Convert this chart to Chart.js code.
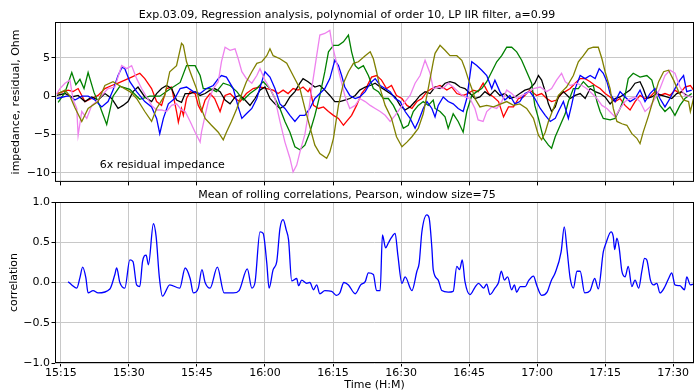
<!DOCTYPE html>
<html>
<head>
<meta charset="utf-8">
<script src="https://cdn.jsdelivr.net/npm/chart.js@4.4.1/dist/chart.umd.min.js"></script>
<style>
body { margin: 0; background: #fff; width: 696px; height: 392px; position: relative; overflow: hidden; }
canvas { position: absolute; left: 0; }
#top { top: 0; }
#bottom { top: 184px; }
</style>
</head>
<body>
<canvas id="top" width="696" height="190"></canvas>
<canvas id="bottom" width="696" height="208"></canvas>
<script>
// times are minutes after 15:00
const timeTicks = ['15:15', '15:30', '15:45', '16:00', '16:15', '16:30', '16:45', '17:00', '17:15', '17:30'];
const impTicks = [-10, -5, 0, 5];
const corrTicks = [-1, -0.5, 0, 0.5, 1];

const timeRed = [14.1,16.6,17.7,18.8,20.3,21.8,23.2,24.7,26.2,27.6,29.1,30.6,32.4,33.5,35.0,36.1,37.2,38.3,39.4,40.5,40.9,41.6,42.0,42.7,43.5,44.6,45.3,46.0,46.8,47.9,48.9,50.1,51.2,52.3,53.4,54.5,55.9,57.4,58.9,60.4,61.8,62.9,64.0,65.1,66.2,67.3,68.4,69.5,69.9,70.7,71.8,72.9,74.0,75.1,76.2,77.3,78.0,79.1,80.2,81.3,82.4,83.5,84.6,85.7,86.8,87.9,89.0,90.2,91.3,92.4,93.5,94.6,95.7,96.8,98.6,100.1,101.2,102.3,103.7,104.8,105.9,107.0,108.1,109.3,110.4,111.5,112.6,113.7,114.8,115.9,117.0,118.4,119.9,121.0,122.1,123.2,124.3,125.4,126.2,127.3,128.4,129.5,130.6,131.7,132.8,133.9,135.0,136.1,137.2,138.3,139.4,140.5,141.6,142.7,143.8,144.9,146.0,147.1,148.2,149.3,150.4,151.5,152.6,153.8,154.5];
const resRed = [0.35,0.8,0.6,1.0,-0.7,-0.3,0.1,1.0,1.4,1.7,2.1,2.5,3.0,2.3,1.0,-0.7,-1.2,1.0,1.2,-2.0,-3.4,-1.6,-2.5,-0.3,0.6,0.35,-1.2,-2.0,-0.5,0.35,-0.3,-2.0,0.1,0.35,-0.3,-0.7,0.35,1.0,1.2,1.0,0.8,0.35,0.8,0.35,1.0,0.8,1.2,0.6,1.0,-1.2,-1.6,-1.4,-2.0,-2.5,-2.9,-3.8,-3.3,-2.5,-1.2,0.35,1.2,2.5,2.7,2.1,1.0,1.4,0.1,-0.3,-1.2,-1.6,-0.7,-0.3,0.6,1.0,1.4,0.8,1.2,0.35,0.1,0.35,0.8,0.6,1.7,0.35,-0.1,-0.7,-2.7,-1.4,-1.4,-0.3,-0.1,0.8,0.1,0.35,-0.3,-0.7,-0.5,0.35,0.6,1.0,1.7,2.3,2.3,1.9,1.4,1.0,0.35,-0.1,-0.7,-0.3,-1.2,-1.8,-0.7,0.1,-0.3,-0.1,0.6,0.1,0.35,0.1,0.8,0.35,1.2,1.4,0.8];

const timeBlack = [14.1,15.9,17.4,18.8,20.3,21.8,23.2,24.7,26.2,27.6,28.7,29.8,30.9,32.0,33.5,35.0,36.1,37.2,38.3,39.4,40.5,41.6,42.4,43.5,44.6,45.7,46.8,47.9,48.9,50.1,51.2,52.3,53.4,54.5,55.6,56.7,57.8,58.9,60.0,61.1,62.2,63.3,64.4,65.5,66.6,67.7,68.4,69.5,71.0,72.1,73.2,74.3,75.4,76.5,77.6,78.7,79.9,80.9,82.1,83.2,84.3,85.4,86.5,87.6,88.7,89.8,90.9,92.0,93.1,94.2,95.3,96.4,97.5,98.6,99.7,100.8,101.9,103.0,104.1,105.2,106.3,107.4,108.5,109.6,110.7,111.8,112.9,114.0,115.1,116.2,117.3,118.4,119.5,120.3,121.0,121.8,122.5,123.2,124.0,124.7,125.8,127.3,128.4,129.5,130.6,131.7,132.8,133.9,135.0,136.1,137.2,138.3,139.4,140.5,141.6,142.7,143.4,144.2,145.3,146.4,147.5,148.6,149.7,150.8,151.9,153.0,154.1];
const resBlack = [0.1,0.35,-0.1,0.1,-0.7,-0.1,-0.5,0.35,-0.3,-1.6,-1.2,-0.7,0.6,1.2,-0.1,-0.7,0.35,1.0,1.4,1.0,-0.5,-0.8,0.35,0.35,0.6,0.1,0.35,0.8,1.0,0.6,-0.5,-1.0,-0.1,0.1,-0.5,-1.2,-0.3,0.8,1.2,-0.3,-1.0,-1.6,-1.2,-0.1,0.6,1.7,2.3,1.9,1.2,1.4,0.8,0.1,-0.7,-0.7,-0.5,-0.3,0.1,0.8,1.2,1.4,1.7,1.2,0.8,0.35,-0.1,-1.2,-1.8,-1.4,-0.7,0.1,0.6,0.35,1.2,1.0,1.7,1.9,1.7,1.2,1.0,0.35,-0.3,-0.1,0.6,0.1,0.8,0.1,0.35,-0.3,-0.1,0.35,0.8,1.0,1.7,2.7,2.1,0.6,-1.0,-2.0,-1.4,-0.1,0.6,-0.3,0.1,0.35,-0.3,1.0,0.6,0.35,-0.1,-1.0,-0.3,-0.1,0.35,0.8,1.7,1.9,1.0,-0.3,-0.1,0.35,0.1,-0.1,-0.3,0.35,0.6,0.1,-0.1];

const timeGreen = [14.4,15.9,17.4,18.3,19.2,20.1,21.0,22.3,23.6,25.1,26.5,28.0,30.2,32.4,34.6,36.8,39.0,41.3,42.7,44.6,45.7,46.4,47.9,49.3,50.8,52.3,53.8,55.2,56.7,58.2,59.6,61.1,62.2,63.3,64.4,65.5,66.6,67.7,68.8,69.9,71.0,72.1,73.2,74.0,75.1,76.2,77.3,78.4,79.1,79.9,80.6,81.7,82.8,83.9,85.0,86.1,87.2,88.3,89.4,90.5,91.6,92.7,93.8,94.9,96.0,97.1,97.5,98.6,99.7,100.4,101.5,102.6,103.7,104.5,105.6,106.7,107.8,108.9,110.0,111.1,112.2,113.3,114.4,115.5,116.6,117.7,118.8,119.5,120.3,121.4,122.5,123.2,124.0,125.1,126.2,126.9,128.0,129.1,130.2,131.3,132.4,133.2,133.9,134.6,136.1,137.2,138.3,139.4,140.1,141.2,142.7,144.2,145.3,146.0,147.1,148.2,149.3,150.4,151.5,152.6,154.1];
const resGreen = [-0.8,0.5,3.1,1.5,2.2,1.0,3.1,0.5,-1.3,-3.7,0,1.3,0.9,-0.4,0,0,0.9,1.8,4.0,4.0,2.7,1.0,1.0,0.6,1.7,1.4,0.6,-0.5,0.35,1.0,1.9,1.0,-0.3,-1.6,-3.3,-4.7,-6.6,-7.0,-6.4,-4.7,-2.5,0.1,3.2,5.8,6.65,6.65,7.1,8.0,5.8,4.0,3.6,4.0,2.7,1.0,0.6,-0.3,-0.3,-1.2,-2.5,-4.2,-3.8,-2.0,-1.2,-0.7,-1.2,-0.5,-1.6,-2.0,-2.7,-4.2,-2.3,-3.3,-4.7,-2.0,0.1,0.6,1.0,1.9,3.2,4.5,5.3,6.4,6.4,5.8,4.7,3.2,1.7,-1.2,-2.9,-5.5,-6.4,-6.8,-5.3,-3.8,-2.3,-0.7,1.0,1.0,1.9,1.2,1.4,-0.7,-2.0,-2.9,-3.1,-2.9,-1.6,0.1,2.3,3.0,2.5,2.7,2.1,0.6,-1.2,-2.0,-1.4,-2.5,-1.2,-0.3,0.35];

const timeBlue = [14.1,16.3,17.0,18.1,19.6,21.0,22.5,24.0,25.4,26.5,27.6,28.5,29.1,30.2,31.7,33.5,35.0,36.1,36.8,37.6,38.7,40.1,41.3,42.7,44.2,45.7,47.1,48.6,49.7,50.4,51.5,53.0,54.1,54.9,55.9,57.1,58.2,59.3,60.0,61.1,62.2,63.3,64.4,65.5,66.6,67.7,68.8,69.9,71.0,72.1,73.2,74.3,75.4,76.2,76.9,77.6,78.7,79.9,80.9,82.1,83.2,84.3,85.4,86.5,87.6,88.7,89.8,90.9,92.0,93.1,93.8,94.9,95.7,96.8,97.5,98.2,99.3,100.4,101.5,102.6,103.7,104.5,105.6,106.7,107.8,108.9,110.0,110.7,111.8,112.9,114.0,115.1,116.2,117.3,118.4,119.5,120.7,121.8,122.9,124.0,124.7,125.8,126.9,127.6,128.4,129.5,130.6,131.7,132.8,133.7,134.6,135.4,136.1,137.2,138.3,139.4,140.5,141.6,142.7,143.8,144.9,146.0,147.1,148.2,149.3,150.4,151.5,152.3,153.0,154.1];
const resBlue = [-0.3,0,0,-0.5,0,0,-0.5,-1.4,-0.7,0.8,2.7,3.8,3.6,1.9,0.6,-0.7,-1.4,-2.9,-4.9,-2.9,-1.0,-0.3,1.0,1.2,0.6,0.35,1.0,1.4,2.3,2.7,2.5,1.0,-1.4,-2.9,-2.3,-1.6,-0.3,1.9,3.2,2.5,1.0,-1.0,-1.6,-2.5,-3.3,-2.5,-2.5,-1.6,-0.3,0.35,1.0,2.3,4.7,4.0,2.7,1.2,0.1,-0.3,-0.1,0.6,1.7,2.3,1.4,1.0,0.6,-0.3,-0.7,-2.0,-2.9,-4.2,-3.3,-1.6,-0.7,-1.6,-2.7,-1.2,-0.1,-0.7,-1.0,-1.6,-2.0,-0.3,4.5,4.0,3.4,2.7,1.0,2.1,0.6,-0.5,0.1,-1.0,-0.7,0.35,0.6,-0.3,-1.6,-2.5,-3.3,-2.9,-2.0,-0.7,-2.9,-1.2,1.0,2.7,2.3,2.7,2.3,3.6,3.0,1.9,0.35,-0.7,0.6,-0.1,-0.7,-0.3,0.8,-0.7,0.35,1.0,-0.3,-1.4,-0.3,1.0,2.1,2.7,0.6,0.8];

const timeViolet = [14.1,14.8,15.9,17.0,17.7,18.5,18.8,19.6,20.7,21.8,22.9,24.0,25.4,26.9,28.4,29.5,30.6,31.7,32.8,33.9,35.0,36.1,37.2,38.3,39.4,40.5,41.6,42.4,43.5,44.6,45.7,46.0,46.8,47.5,48.6,49.7,50.4,51.2,52.3,53.4,54.1,54.9,55.9,57.1,58.2,58.9,60.0,61.1,62.2,63.3,64.4,65.5,66.2,67.0,67.7,68.8,69.5,70.3,71.4,72.1,73.2,74.3,74.7,75.4,76.5,77.6,78.7,79.9,80.9,82.1,83.2,84.3,85.4,86.5,87.6,88.7,89.8,90.9,92.0,93.1,94.2,95.3,96.4,97.1,98.2,99.3,100.4,101.5,103.0,104.1,105.2,106.3,107.0,108.1,108.9,110.0,111.1,112.2,113.3,114.4,115.5,116.6,117.7,119.2,120.7,122.1,123.2,124.3,125.4,126.2,127.3,128.7,129.9,130.9,132.1,133.2,134.3,135.4,136.5,137.2,138.3,139.4,140.5,141.6,142.7,143.8,144.9,146.0,147.1,148.2,149.3,150.4,151.5,152.6,154.1];
const resViolet = [0.35,1.0,1.7,2.1,-0.5,-1.6,-5.1,-2.0,-2.9,-1.2,-0.7,0.1,1.0,1.2,4.0,3.6,4.0,2.3,1.0,-0.1,-1.2,-1.8,-1.8,-2.0,-1.2,-1.0,-1.8,-2.0,-3.3,-4.7,-6.0,-4.7,-2.5,-0.7,1.0,1.9,4.5,6.4,6.0,6.2,4.9,3.2,2.3,1.7,2.7,3.6,2.1,1.0,-0.3,-3.3,-6.0,-8.1,-9.9,-9.0,-7.3,-5.0,-2.5,1.0,5.3,8.0,8.2,8.6,7.1,5.3,2.7,0.1,-1.6,-1.2,-0.3,-0.7,-1.2,-1.6,-2.0,-2.5,-3.3,-2.5,-1.6,-0.7,0.1,1.7,2.7,4.7,3.0,1.0,1.2,1.0,1.7,1.2,0.35,-0.1,-0.3,-1.6,-3.1,-3.3,-2.0,-1.4,-1.6,-0.7,0.8,0.35,-0.3,0.1,0.35,1.0,1.2,0.6,1.0,2.1,3.0,1.9,1.4,1.7,1.4,1.0,0.35,-0.3,-1.2,-1.6,-2.3,-2.7,-1.6,-0.7,-0.3,-0.1,-0.7,-2.0,-1.4,-0.3,1.0,2.7,3.4,3.0,1.2,0.1,-0.1];

const timeOlive = [14.4,15.9,17.0,18.1,19.6,21.0,23.2,24.7,26.5,28.4,30.2,31.7,33.5,35.0,36.1,37.9,39.0,40.5,41.6,42.0,42.7,43.8,44.9,45.7,46.8,48.2,49.7,50.8,51.5,52.6,53.8,54.9,55.9,57.1,58.2,59.3,60.4,61.1,61.8,63.3,64.8,66.2,67.7,68.8,69.9,71.0,72.1,73.6,74.3,75.1,76.2,77.3,78.4,79.5,80.6,82.1,83.2,83.9,84.6,85.4,86.5,87.9,89.0,90.2,91.3,92.4,93.8,94.9,96.0,97.1,97.5,98.6,99.7,100.8,102.3,103.4,104.1,104.8,105.6,106.3,107.4,108.9,110.4,113.3,114.8,116.2,117.7,119.2,120.3,121.0,121.8,122.5,123.6,124.7,125.8,126.5,128.0,129.1,130.2,131.3,132.4,133.5,134.3,135.0,136.1,136.8,137.6,138.7,139.8,140.9,142.0,142.7,143.4,144.6,145.7,146.8,147.9,149.0,150.1,151.2,152.3,153.4,153.8,154.5];
const resOlive = [0.35,0.8,0.0,-1.5,-3.3,-1.6,-0.7,1.4,1.9,1.2,0.6,-0.3,-2.0,-3.3,-1.6,0.1,3.2,4.0,6.9,6.65,4.5,2.7,1.0,-1.2,-2.9,-3.8,-4.7,-5.7,-4.7,-3.3,-1.6,0.35,1.9,3.2,4.3,4.5,5.3,6.2,5.3,4.9,4.3,2.7,1.0,-1.6,-4.0,-6.4,-7.5,-8.1,-7.3,-5.5,-1.2,1.7,3.2,4.3,4.5,5.3,5.8,4.9,3.2,1.0,-1.2,-2.9,-5.3,-6.6,-6.0,-5.3,-4.2,-2.3,1.0,4.5,5.6,6.65,6.0,5.3,5.3,4.7,3.6,2.3,1.0,-0.3,-1.4,-1.2,-1.4,-0.7,-1.2,-1.0,-1.6,-2.9,-5.1,-5.7,-4.7,-3.3,-1.6,0.1,0.8,1.2,2.7,4.5,5.3,6.2,6.4,6.4,4.9,3.2,1.0,-1.6,-3.3,-3.6,-3.8,-4.9,-5.5,-6.2,-4.7,-2.5,-0.3,1.9,3.2,3.4,2.1,0.6,-0.5,-0.7,-2.0,-0.3];

const timeCorr = [16.6,17.4,18.5,19.2,19.8,20.5,21.0,22.1,23.2,25.8,26.9,27.3,28.0,29.1,30.2,30.9,31.7,32.4,33.0,33.8,34.3,35.4,36.0,36.7,37.4,39.0,41.2,42.4,43.5,44.2,45.3,46.1,46.8,47.9,49.5,51.0,53.0,54.3,56.1,57.1,57.8,58.9,59.6,60.4,60.9,61.8,62.6,63.3,64.0,64.7,65.2,65.9,67.0,67.4,68.1,69.2,69.9,70.7,71.4,72.1,73.2,74.7,75.8,76.5,77.4,78.4,79.9,81.1,82.1,82.8,83.9,84.6,85.4,85.9,86.6,87.2,87.8,88.7,89.3,90.2,90.9,92.4,93.5,94.0,94.6,95.7,96.2,96.8,97.1,98.2,99.0,100.4,101.5,102.3,102.9,103.5,104.1,105.2,106.3,107.1,108.2,108.9,109.6,110.7,111.5,112.1,112.8,113.5,114.4,115.0,115.5,116.3,117.4,118.1,119.2,119.9,121.0,122.2,123.1,124.0,125.3,126.0,126.6,127.3,128.0,128.8,129.5,130.5,131.7,132.7,133.5,134.6,135.2,136.3,136.8,137.1,137.6,138.1,138.7,139.4,140.1,140.9,141.6,142.4,143.1,143.7,144.2,145.0,145.7,146.4,147.1,148.2,149.0,149.7,150.4,151.5,152.5,153.0,153.8,154.5];
const corrMean = [0.01,-0.03,-0.07,0.06,0.19,0.06,-0.13,-0.10,-0.13,-0.08,0.10,0.18,0.0,-0.07,0.28,0.26,-0.03,-0.05,0.26,0.34,0.22,0.73,0.57,0.07,-0.17,-0.03,-0.07,0.18,0.05,-0.13,-0.07,0.16,0.0,-0.07,0.19,-0.13,-0.13,-0.10,0.17,-0.07,0.0,0.63,0.61,0.24,-0.07,0.16,0.26,0.67,0.78,0.65,0.53,0.02,0.05,-0.04,0.03,-0.01,0.0,-0.09,-0.03,-0.14,-0.10,-0.11,-0.16,-0.13,0.0,-0.03,-0.14,-0.03,0.01,0.12,0.10,-0.10,-0.10,0.59,0.43,0.49,0.55,0.61,0.34,-0.01,0.07,-0.10,0.14,0.24,0.63,0.84,0.80,0.43,0.16,0.03,-0.10,-0.12,-0.11,0.20,0.16,0.28,0.01,-0.15,-0.06,-0.01,-0.07,-0.02,-0.15,-0.07,0.0,0.14,0.03,0.07,-0.09,-0.03,-0.12,-0.05,-0.05,0.02,0.08,-0.03,-0.16,-0.12,0.02,0.12,0.38,0.69,0.41,0.05,-0.07,0.14,0.14,-0.13,-0.10,0.05,-0.08,0.38,0.49,0.63,0.57,0.41,0.55,0.43,0.14,0.07,0.20,-0.05,0.03,-0.07,0.14,0.30,0.28,0.03,-0.03,-0.01,-0.13,-0.05,0.05,0.12,-0.03,-0.04,-0.09,0.07,-0.03,-0.02];

Chart.defaults.font.family = "'DejaVu Sans', sans-serif";
Chart.defaults.font.size = 11;
Chart.defaults.color = '#000';
Chart.defaults.animation = false;

const gridColor = '#c8c8c8';
const toMinutes = s => { const [h, m] = s.split(':').map(Number); return (h - 15) * 60 + m; };
const minus = (v, d) => (v < 0 ? '\u2212' : '') + Math.abs(v).toFixed(d);
const pts = (t, v) => t.map((x, i) => ({ x: x, y: v[i] }));

function line(label, color, t, v, w, smooth) {
  return {
    label, data: pts(t, v), borderColor: color, borderWidth: w, pointRadius: 0, fill: false,
    tension: 0, cubicInterpolationMode: smooth ? 'monotone' : 'default'
  };
}

const frame = {
  id: 'frame',
  afterDraw(chart) {
    const { ctx, chartArea: a } = chart;
    ctx.save();
    ctx.strokeStyle = '#000';
    ctx.lineWidth = 1;
    ctx.strokeRect(a.left + 0.5, a.top + 0.5, a.right - a.left - 1, a.bottom - a.top - 1);
    const note = chart.options.plugins.note;
    if (note && note.text) {
      ctx.fillStyle = '#000';
      ctx.font = "11px 'DejaVu Sans'";
      ctx.textBaseline = 'alphabetic';
      ctx.fillText(note.text, a.left + 0.07 * (a.right - a.left), a.bottom - 0.085 * (a.bottom - a.top));
    }
    ctx.restore();
  }
};

function timeAxis(showLabels) {
  return {
    type: 'linear', min: 13.7, max: 154.6,
    afterBuildTicks: s => { s.ticks = timeTicks.map(t => ({ value: toMinutes(t) })); },
    afterFit: s => { s.height = showLabels ? 29 : 7; },
    grid: { color: gridColor, lineWidth: 1, drawTicks: true, tickLength: 3.5, tickColor: '#000', tickWidth: 1 },
    border: { display: false },
    ticks: {
      display: showLabels, maxRotation: 0, autoSkip: false, padding: 1.5,
      font: { size: 11, lineHeight: 1 },
      callback: v => timeTicks.find(t => toMinutes(t) === v) || ''
    },
    title: { display: showLabels, text: 'Time (H:M)', padding: { top: 0, bottom: 0.4 }, font: { size: 11, lineHeight: 1.2 } }
  };
}

function valueAxis(tickValues, min, max, text, pad, digits) {
  return {
    min, max,
    afterBuildTicks: s => { s.ticks = tickValues.map(v => ({ value: v })); },
    afterFit: s => { s.width = 55; },
    grid: { color: gridColor, lineWidth: 1, drawTicks: true, tickLength: 3.5, tickColor: '#000', tickWidth: 1 },
    border: { display: false },
    ticks: { padding: 1.5, callback: v => minus(v, digits) },
    title: { display: true, text, padding: { top: pad, bottom: 0 }, font: { size: 11, lineHeight: 1.2 } }
  };
}

new Chart(document.getElementById('top'), {
  type: 'line',
  data: {
    datasets: [
      line('olive', '#808000', timeOlive, resOlive, 1.3),
      line('violet', '#ee82ee', timeViolet, resViolet, 1.3),
      line('blue', '#0000ff', timeBlue, resBlue, 1.3),
      line('green', '#008000', timeGreen, resGreen, 1.3),
      line('black', '#000000', timeBlack, resBlack, 1.3),
      line('red', '#ff0000', timeRed, resRed, 1.3)
    ]
  },
  options: {
    responsive: false,
    layout: { padding: { left: 0, right: 2, top: 0, bottom: 0 } },
    plugins: {
      legend: { display: false },
      tooltip: { enabled: false },
      title: {
        display: true,
        text: 'Exp.03.09, Regression analysis, polynomial of order 10, LP IIR filter, a=0.99',
        font: { size: 11, weight: 'normal', lineHeight: 1 },
        padding: { top: 10, bottom: 1 }
      },
      note: { text: '6x residual impedance' }
    },
    scales: {
      x: timeAxis(false),
      y: valueAxis(impTicks, -11.2, 9.7, 'impedance, residual, Ohm', 9.9, 0)
    }
  },
  plugins: [frame]
});

new Chart(document.getElementById('bottom'), {
  type: 'line',
  data: {
    datasets: [line('correlation', '#0000ff', timeCorr, corrMean, 1.3, true)]
  },
  options: {
    responsive: false,
    layout: { padding: { left: 0, right: 2, top: 0, bottom: 0 } },
    plugins: {
      legend: { display: false },
      tooltip: { enabled: false },
      title: {
        display: true,
        text: 'Mean of rolling correlations, Pearson, window size=75',
        font: { size: 11, weight: 'normal', lineHeight: 1 },
        padding: { top: 5.5, bottom: 1.5 }
      }
    },
    scales: {
      x: timeAxis(true),
      y: valueAxis(corrTicks, -1, 1, 'correlation', 7.5, 1)
    }
  },
  plugins: [frame]
});
</script>
</body>
</html>
